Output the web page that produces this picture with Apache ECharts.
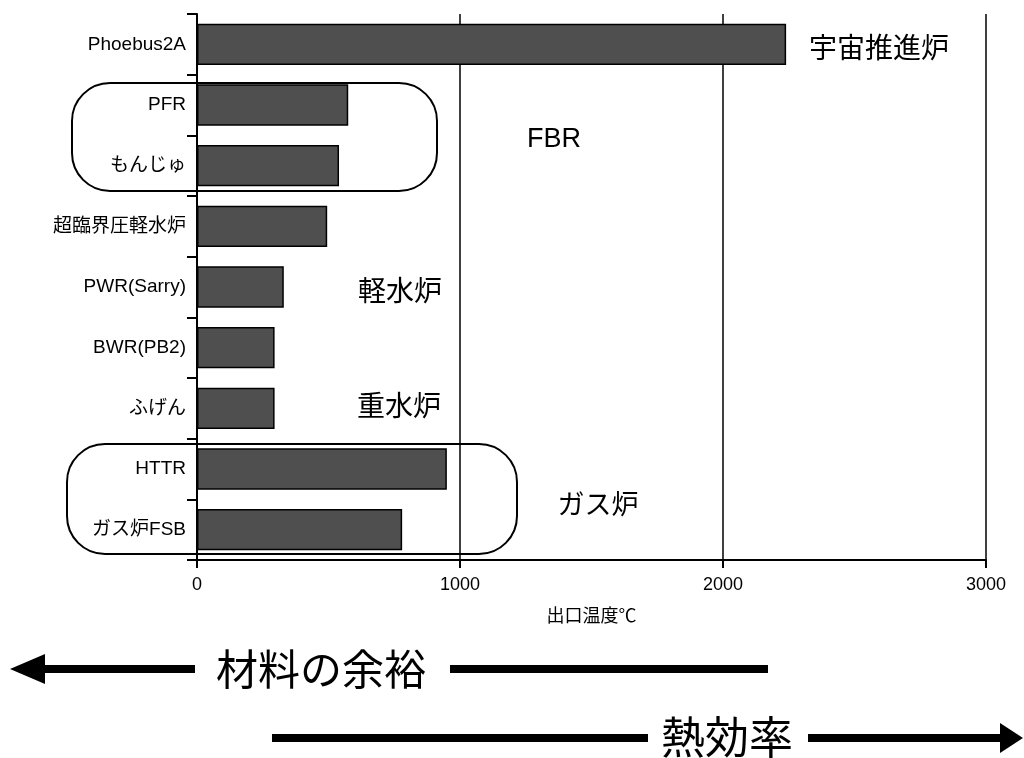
<!DOCTYPE html>
<html>
<head>
<meta charset="utf-8">
<script src="https://cdn.jsdelivr.net/npm/echarts@6/dist/echarts.min.js"></script>
<style>
html,body{margin:0;padding:0;background:#fff;}
#chart{width:1024px;height:758px;}
</style>
</head>
<body>
<div id="chart"></div>
<script>
// ---- data ----
const categories = ['Phoebus2A', 'PFR', 'もんじゅ', '超臨界圧軽水炉', 'PWR(Sarry)', 'BWR(PB2)', 'ふげん', 'HTTR', 'ガス炉FSB'];
const outletTemps = [2240, 575, 540, 495, 330, 295, 295, 950, 780];
const xTicks = [0, 1000, 2000, 3000];
const axisTitle = '出口温度℃';
const groupLabels = ['宇宙推進炉', 'FBR', '軽水炉', '重水炉', 'ガス炉'];
const bottomLabels = ['材料の余裕', '熱効率'];

const FONT = "'Liberation Sans', 'Noto Sans CJK JP', sans-serif";
const JP = "'Noto Sans CJK JP', sans-serif";

const chart = echarts.init(document.getElementById('chart'));

function txt(text, x, y, size, font) {
  return {
    type: 'text', x: x, y: y, z: 100,
    style: { text: text, fill: '#000', font: 'normal ' + size + 'px ' + (font || JP), textAlign: 'center', textVerticalAlign: 'middle' }
  };
}
function box(x, y, w, h, r) {
  return { type: 'rect', z: 90, shape: { x: x, y: y, width: w, height: h, r: r },
    style: { fill: 'none', stroke: '#000', lineWidth: 2 } };
}
function bar(x1, x2, y, t) {
  return { type: 'rect', z: 90, shape: { x: x1, y: y - t / 2, width: x2 - x1, height: t }, style: { fill: '#000' } };
}
function head(tipX, baseX, y, h) {
  return { type: 'polygon', z: 90, shape: { points: [[tipX, y], [baseX, y - h / 2], [baseX, y + h / 2]] }, style: { fill: '#000' } };
}

chart.setOption({
  animation: false,
  backgroundColor: '#fff',
  grid: { left: 197, right: 38, top: 14, bottom: 198 },
  xAxis: {
    type: 'value', min: 0, max: 3000, interval: 1000,
    name: axisTitle, nameLocation: 'middle', nameGap: 46,
    nameTextStyle: { fontFamily: JP, fontSize: 18, color: '#000' },
    axisLine: { show: true, lineStyle: { color: '#000', width: 2 } },
    axisTick: { show: true, length: 8, lineStyle: { color: '#000', width: 2 } },
    axisLabel: { fontFamily: FONT, fontSize: 18, color: '#000', margin: 16,
      formatter: v => (xTicks.indexOf(v) >= 0 ? String(v) : '') },
    splitLine: { show: true, lineStyle: { color: '#000', width: 1.5 } }
  },
  yAxis: {
    type: 'category', data: categories, inverse: true,
    axisLine: { show: true, lineStyle: { color: '#000', width: 2 } },
    axisTick: { show: true, length: 10, lineStyle: { color: '#000', width: 2 } },
    axisLabel: { fontFamily: FONT, fontSize: 19, color: '#000', margin: 11 }
  },
  series: [{
    type: 'bar', data: outletTemps, barCategoryGap: '32%',
    itemStyle: { color: '#4f4f4f', borderColor: '#000', borderWidth: 1.5 }
  }],
  graphic: [
    txt(groupLabels[0], 879, 47, 28),
    txt(groupLabels[1], 554, 140, 27, FONT),
    txt(groupLabels[2], 400, 290, 28),
    txt(groupLabels[3], 399, 405, 28),
    txt(groupLabels[4], 598, 504, 27),
    box(72, 83, 365, 108, 38),
    box(67, 444, 450, 110, 38),
    // bottom arrows
    head(10, 45, 669, 30),
    bar(44, 195, 669, 8),
    txt(bottomLabels[0], 321, 669, 42),
    bar(450, 768, 669, 8),
    bar(272, 648, 738, 8),
    txt(bottomLabels[1], 727, 737, 44),
    bar(808, 1002, 738, 8),
    head(1023, 1000, 738, 30)
  ]
});
</script>
</body>
</html>
